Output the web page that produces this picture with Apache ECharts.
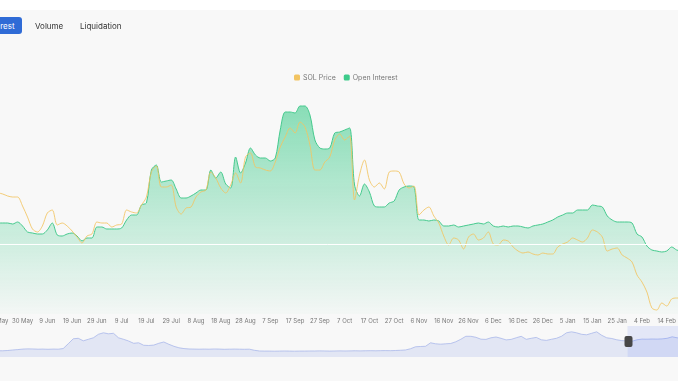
<!DOCTYPE html>
<html><head><meta charset="utf-8">
<script src="https://cdn.jsdelivr.net/npm/echarts@6/dist/echarts.min.js"></script>
<style>
html,body{margin:0;padding:0;width:678px;height:381px;overflow:hidden;background:#f8f8f8;font-family:Inter,Roboto,"Noto Sans",sans-serif;}
#top{position:absolute;left:0;top:0;width:678px;height:10px;background:#fff;}
.tab{position:absolute;top:17px;height:17px;line-height:18px;font-size:8px;color:#333;z-index:5;}
#tab-oi{left:-44px;width:66px;background:#2f6bd6;color:#fff;border-radius:3px;text-align:center;}
#chart{position:absolute;left:-40px;top:0;width:760px;height:381px;}
</style></head>
<body>
<div id="top"></div>
<div id="chart"></div>
<div class="tab" id="tab-oi">Open Interest</div>
<div class="tab" style="left:35px">Volume</div>
<div class="tab" style="left:80px">Liquidation</div>
<script>
// samples every 2 days starting 10 May
const startDate = Date.UTC(2024, 4, 10);
const stepDays = 2;
const monthNames = ['Jan','Feb','Mar','Apr','May','Jun','Jul','Aug','Sep','Oct','Nov','Dec'];

const openInterest = [1.84,1.86,1.82,1.84,1.80,1.82,1.82,1.82,1.80,1.84,
 1.76,1.64,1.62,1.60,1.60,1.68,1.82,1.58,1.56,1.60,
 1.62,1.56,1.46,1.52,1.52,1.74,1.74,1.70,1.70,1.70,
 1.72,1.88,1.98,1.98,2.18,2.22,2.88,2.98,2.64,2.66,
 2.68,2.50,2.32,2.32,2.36,2.42,2.48,2.48,2.88,2.72,
 2.84,2.60,2.52,3.14,2.82,3.02,3.32,3.18,3.12,3.12,
 3.06,3.12,3.68,4.04,4.04,4.02,4.16,4.16,3.98,3.48,
 3.32,3.30,3.32,3.62,3.64,3.68,3.72,2.58,2.36,2.60,
 2.44,2.16,2.14,2.14,2.22,2.26,2.48,2.54,2.56,2.54,
 1.88,1.88,1.86,1.88,1.86,1.76,1.76,1.78,1.74,1.76,
 1.78,1.80,1.82,1.80,1.84,1.76,1.74,1.76,1.74,1.76,
 1.76,1.74,1.72,1.76,1.78,1.80,1.84,1.88,1.94,1.98,
 2.02,2.02,2.08,2.08,2.08,2.18,2.16,2.14,1.96,1.88,
 1.84,1.84,1.84,1.82,1.60,1.54,1.36,1.28,1.26,1.24,
 1.26,1.34,1.28,1.26];

const solPrice = [222,224,221,223,220,221,220,218,217,217,
 208,197,185,182,188,201,204,189,191,188,
 183,177,171,178,180,192,191,191,187,189,
 190,204,202,201,209,217,242,248,227,227,
 229,207,200,206,207,217,222,224,242,236,
 226,221,229,241,231,257,261,247,246,244,
 243,252,267,277,286,281,292,287,269,244,
 244,252,257,274,280,274,278,214,239,254,
 234,227,231,225,242,243,242,230,226,228,
 199,204,207,198,191,178,169,176,174,165,
 177,180,174,176,182,170,169,174,173,167,
 163,161,162,160,159,161,160,160,167,170,
 172,176,174,172,176,184,182,177,163,165,
 166,159,156,152,139,132,122,106,104,111,
 108,115,116,116];

// long history shown in the zoom slider
const sliderHistory = [7,7,7.2,7,7.3,7.1,7.2,7,7,7.3,
 7.8,8.2,8.7,8.9,8.8,8.6,8.7,8.5,8.7,8.6,
 9.2,14,19,19.5,17,18.5,20,23.5,25,24,
 24.5,20,18.5,16.8,14.5,15,12.5,12.3,12.7,14.5,
 15.8,13.5,11.5,10,9.2,8.8,8.7,8.6,8.7,8.6,
 8.8,8.7,8.5,8.6,8.7,8.6,8.5,8.6,7.5,6.8,
 6.7,6.7,6.6,6.7,6.8,6.7,6.6,6.7,6.7,6.8,
 6.8,6.9,6.8,6.7,6.8,6.9,6.8,6.9,7,6.9,
 7,7.1,7,7.1,7.2,7.1,7.3,7.5,7.8,9,
 11,11.3,11.5,15,14,13.6,14,14.3,16,18.5,
 21.5,21.5,20.5,18.6,18.4,20,20.8,19.5,17.9,18.4,
 20,21.5,18.5,19.5,20.4,18,17.4,18.5,19.5,21.5,
 25,26,25,23.5,23,24.5,26,22.5,20,19.3,
 18,17.2,16.8,16.5,18,18.7,18.6,18.8,18.7,18.9,
 19.5,21,20,19,19.4,19.8,19.5,19.2,19.6,19.9,
 19.5,19.7];

const markLevel = 1.4;
const legendNames = ['SOL Price', 'Open Interest'];

const categories = openInterest.map((_, i) => {
  const d = new Date(startDate + i * stepDays * 86400000);
  return d.getUTCDate() + ' ' + monthNames[d.getUTCMonth()];
});
const historyIndex = sliderHistory.map((_, i) => String(i));

const chart = echarts.init(document.getElementById('chart'), null, {renderer: 'canvas'});
const option = {
  animation: false,
  backgroundColor: 'transparent',
  textStyle: {fontFamily: 'Inter, Roboto, sans-serif'},
  legend: {
    left: 329, top: 69, itemWidth: 6, itemHeight: 6, itemGap: 8, icon: 'roundRect',
    textStyle: {fontSize: 7, color: '#777', padding: [0, 0, 0, -2]},
    data: legendNames
  },
  grid: [
    {left: 9.2, right: 38.4, top: 94, bottom: 67},
    {left: 0, right: 0, top: 326, height: 31}
  ],
  xAxis: [
    {type: 'category', gridIndex: 0, data: categories, boundaryGap: false,
     axisLine: {show: false}, axisTick: {show: false}, splitLine: {show: false},
     axisLabel: {interval: 4, fontSize: 6, color: '#777', margin: 4}},
    {type: 'category', gridIndex: 1, data: historyIndex, boundaryGap: false, show: false}
  ],
  yAxis: [
    {type: 'value', gridIndex: 0, min: 0, max: 4.4, show: false, splitLine: {show: false}},
    {type: 'value', gridIndex: 0, min: 100, max: 320, show: false, splitLine: {show: false}},
    {type: 'value', gridIndex: 1, show: false, splitLine: {show: false}}
  ],
  dataZoom: [{
    type: 'slider', xAxisIndex: 1, start: 87.5, end: 100,
    left: 0, right: 0, top: 326, height: 31,
    showDetail: false, brushSelect: false, moveHandleSize: 0,
    borderColor: 'transparent', backgroundColor: 'transparent',
    fillerColor: 'rgba(120,140,240,0.16)',
    handleIcon: 'path://M2,0H6A2,2,0,0,1,8,2V9A2,2,0,0,1,6,11H2A2,2,0,0,1,0,9V2A2,2,0,0,1,2,0Z',
    handleSize: 11,
    handleStyle: {color: '#474747', borderColor: '#474747', borderWidth: 0},
    dataBackground: {lineStyle: {color: '#aab8ea', width: 0.8, opacity: 1}, areaStyle: {color: '#c8d0f0', opacity: 0.45}},
    selectedDataBackground: {lineStyle: {color: '#a4b4ec', width: 0.8, opacity: 1}, areaStyle: {color: '#c8d0f0', opacity: 0.45}}
  }],
  series: [
    {
      name: 'Open Interest', type: 'line', xAxisIndex: 0, yAxisIndex: 0, data: openInterest,
      smooth: 0.3, symbol: 'none',
      lineStyle: {color: '#45c98d', width: 1},
      itemStyle: {color: '#3ecb8b'},
      areaStyle: {color: new echarts.graphic.LinearGradient(0, 0, 0, 1, [
        {offset: 0, color: 'rgba(62,203,139,0.85)'},
        {offset: 1, color: 'rgba(62,203,139,0.03)'}
      ])},
      markLine: {silent: true, symbol: ['none', 'none'], label: {show: false},
        lineStyle: {color: '#ffffff', width: 1, type: 'solid'}, data: [{yAxis: markLevel}]}
    },
    {
      name: 'SOL Price', type: 'line', xAxisIndex: 0, yAxisIndex: 1, data: solPrice,
      smooth: 0.3, symbol: 'none', z: 3,
      lineStyle: {color: '#f2c462', width: 1, opacity: 0.85},
      itemStyle: {color: '#f2c462'}
    },
    {
      name: 'history', type: 'line', xAxisIndex: 1, yAxisIndex: 2, data: sliderHistory,
      symbol: 'none', silent: true, lineStyle: {opacity: 0}
    }
  ]
};
chart.setOption(option);
</script>
</body></html>
